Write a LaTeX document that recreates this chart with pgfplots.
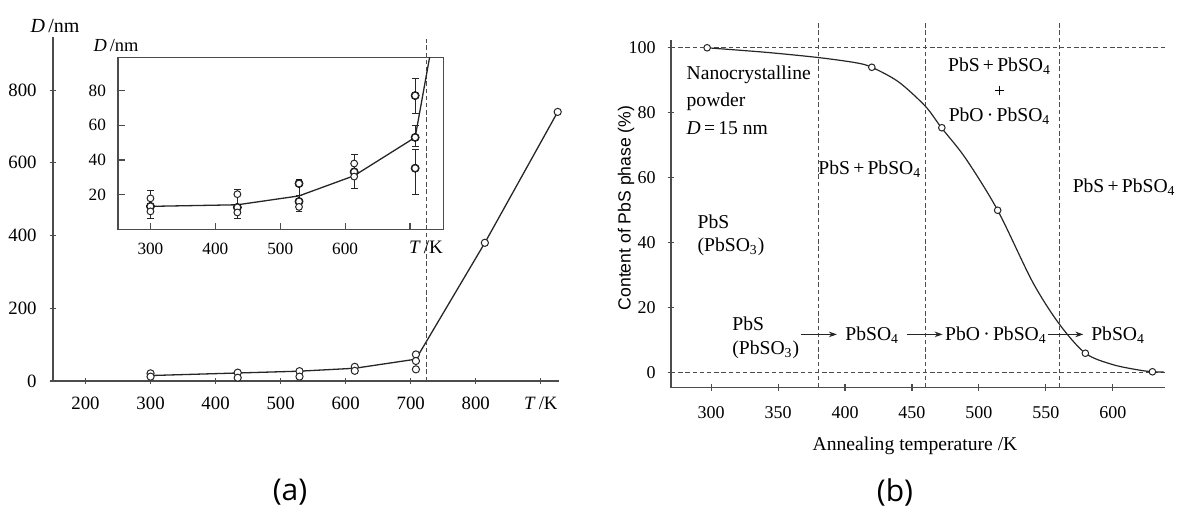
\documentclass[border=0pt]{standalone}
\usepackage{fontspec}
\setmainfont{Liberation Serif}
\newfontfamily\capfont{Open Sans}
\newfontfamily\labsans{Liberation Sans}
\usepackage{pgfplots}
\pgfplotsset{compat=1.18}
\usetikzlibrary{arrows.meta}

\begin{document}
\begin{tikzpicture}
\path[use as bounding box] (0,0) rectangle (588.5pt,253.5pt);
\pgfplotsset{
  every axis/.append style={
    scale only axis, anchor=south west, clip=false,
    tick align=inside, major tick length=3.3pt,
    axis line style={black!70, line width=0.55pt},
    every tick/.append style={black!70, line width=0.55pt},
    /pgf/number format/assume math mode=true,
    tick label style={font=\rmfamily\fontsize{9.4}{11}\selectfont},
  },
  curve/.style={black!85, line width=0.65pt, mark=none},
  dots/.style={only marks, mark=*, mark size=1.8pt,
    mark options={draw=black!85, fill=white, line width=0.5pt}},
}
\tikzset{
  guide/.style={black!70, line width=0.5pt, dash pattern=on 2.2pt off 1.4pt},
  ann/.style={font=\rmfamily\fontsize{9.8}{12}\selectfont, inner sep=0pt},
}

% (a) main axis
\begin{axis}[
  at={(26.5pt,63pt)}, width=253pt, height=172pt,
  xmin=150, xmax=928, ymin=0, ymax=946,
  axis x line=bottom, axis y line=left,
  axis line style={-},
  xtick={200,300,...,900},
  xticklabels={200,300,400,500,600,700,800,{\textit{T}\,/K}},
  ytick={0,200,...,800},
  xticklabel style={yshift=-3pt}, yticklabel style={xshift=-3pt},
]
\addplot[curve] coordinates {(300,15) (434,22) (529,27) (614,35) (708,60) (814,380) (926,740)};
\addplot[dots] coordinates {(300,21) (300,12) (434,23) (434,9) (529,27) (529,12)
  (614,39) (614,28) (708,73) (708,55) (708,32) (814,380) (926,740)};
\draw[guide] (axis cs:724,0) -- (axis cs:724,941);
\end{axis}

% (a) inset
\begin{axis}[
  at={(59pt,138.65pt)}, width=162.85pt, height=86.2pt,
  xmin=250, xmax=752, ymin=0, ymax=99, clip=true,
  xtick pos=bottom, ytick pos=left,
  xtick={300,400,...,700}, xticklabels={300,400,500,600,{}},
  ytick={20,40,60,80},
  tick label style={font=\rmfamily\fontsize{8.6}{10}\selectfont},
  xticklabel style={yshift=-3pt}, yticklabel style={xshift=-2.5pt},
]
\addplot[only marks, mark=none,
  error bars/.cd, y dir=both, y explicit,
  error bar style={black!85, line width=0.5pt},
  error mark options={rotate=90, mark size=1.7pt, black!85, line width=0.5pt}]
 coordinates {
  (300,13.4) += (0,8.9) -= (0,6.9)
  (434,12.8) += (0,10.5) -= (0,6.3)
  (529,26.5) += (0,2.5) -= (0,7)
  (529,16.2) += (0,3.2) -= (0,5.7)
  (614,33.2) += (0,10.1) -= (0,9.5)
  (708,77) += (0,10) -= (0,10)
  (708,53) += (0,7) -= (0,5)
  (708,35.3) += (0,10.7) -= (0,14.9)
 };
\addplot[curve] coordinates {(300,13.4) (434,14.3) (529,19.4) (614,31) (708,53) (731,100.5)};
\addplot[dots, mark size=1.7pt] coordinates {(300,18) (300,13.4) (300,10.5)
  (434,20.4) (434,12.8) (434,9.9) (529,26.5) (529,16.2) (529,13.1)
  (614,38) (614,33.2) (614,30.5) (708,77) (708,53) (708,35.3)};
\end{axis}

\node[font=\fontsize{10}{12}\selectfont] at (27.5pt,240.5pt) {\textit{D}\,/nm};
\node[font=\fontsize{9.2}{11}\selectfont] at (58pt,230.5pt) {\textit{D}\,/nm};
\node[font=\fontsize{9.5}{11}\selectfont] at (213pt,129.65pt) {\textit{T}\,/K};

% (b)
\begin{axis}[
  at={(335.5pt,59.65pt)}, width=247pt, height=173.85pt,
  xmin=270, xmax=639, ymin=-4.6, ymax=102.4,
  axis x line=bottom, axis y line=left,
  axis line style={-},
  xtick={300,350,...,600}, ytick={0,20,...,100},
  tick label style={font=\rmfamily\fontsize{9}{11}\selectfont},
  xticklabel style={yshift=-4pt}, yticklabel style={xshift=-2.5pt},
]
\draw[guide] (axis cs:270,100) -- (axis cs:641,100);
\draw[guide] (axis cs:270,0) -- (axis cs:639,0);
\draw[guide] (axis cs:380,-4.6) -- (axis cs:380,107.8);
\draw[guide] (axis cs:460,-4.6) -- (axis cs:460,107.8);
\draw[guide] (axis cs:560,-4.6) -- (axis cs:560,107.8);
\addplot[curve, line width=0.6pt, smooth, tension=0.5] coordinates {
  (297,100) (341,98.6) (380,97) (408,95.4) (420,94) (440,89.5) (460,82)
  (472,75.4) (490,66) (514,50) (540,28) (560,15) (579.5,6) (600,2.5)
  (620,0.8) (630,0.3) (638,0.2)};
\addplot[dots, mark size=1.65pt] coordinates {(297,100) (420,94) (472.3,75.4)
  (514,50) (579.5,6) (629.6,0.3)};
\node[ann, anchor=west] at (axis cs:281.4,91.6) {Nanocrystalline};
\node[ann, anchor=west] at (axis cs:281.4,83.4) {powder};
\node[ann, anchor=west] at (axis cs:281.4,75.2) {\textit{D}\,=\,15 nm};
\node[ann] at (axis cs:418.5,62.7) {PbS\,+\,PbSO\textsubscript{4}};
\node[ann] at (axis cs:515.4,94.2) {PbS\,+\,PbSO\textsubscript{4}};
\node[ann] at (axis cs:515.4,86.5) {+};
\node[ann] at (axis cs:515.4,78.8) {PbO\,·\,PbSO\textsubscript{4}};
\node[ann] at (axis cs:608.5,57.2) {PbS\,+\,PbSO\textsubscript{4}};
\node[ann, anchor=west] at (axis cs:289.6,46.4) {PbS};
\node[ann, anchor=west] at (axis cs:289.6,38.8) {(PbSO\textsubscript{3})};
\node[ann, anchor=west] at (axis cs:315.6,15.2) {PbS};
\node[ann, anchor=west] at (axis cs:315.6,7.0) {(PbSO\textsubscript{3})};
\node[ann] at (axis cs:420.3,11.6) {PbSO\textsubscript{4}};
\node[ann] at (axis cs:512.7,11.6) {PbO\,·\,PbSO\textsubscript{4}};
\node[ann] at (axis cs:604,11.6) {PbSO\textsubscript{4}};
\draw[-{Stealth[length=4pt,width=2.8pt]}, line width=0.5pt, black!85]
  (axis cs:367.1,11.8) -- (axis cs:393.9,11.8);
\draw[-{Stealth[length=4pt,width=2.8pt]}, line width=0.5pt, black!85]
  (axis cs:446,11.8) -- (axis cs:472.9,11.8);
\draw[-{Stealth[length=4pt,width=2.8pt]}, line width=0.5pt, black!85]
  (axis cs:551.9,11.8) -- (axis cs:578,11.8);
\end{axis}

\node[rotate=90, font=\labsans\fontsize{8.8}{10}\selectfont] at (313pt,149.5pt) {Content of PbS phase (\%)};
\node[font=\fontsize{9.8}{12}\selectfont] at (457.5pt,30.5pt) {Annealing temperature /K};

\node[font=\capfont\fontsize{15}{17}\selectfont] at (145pt,7.5pt) {(a)};
\node[font=\capfont\fontsize{15}{17}\selectfont] at (447.5pt,7.5pt) {(b)};
\end{tikzpicture}
\end{document}
